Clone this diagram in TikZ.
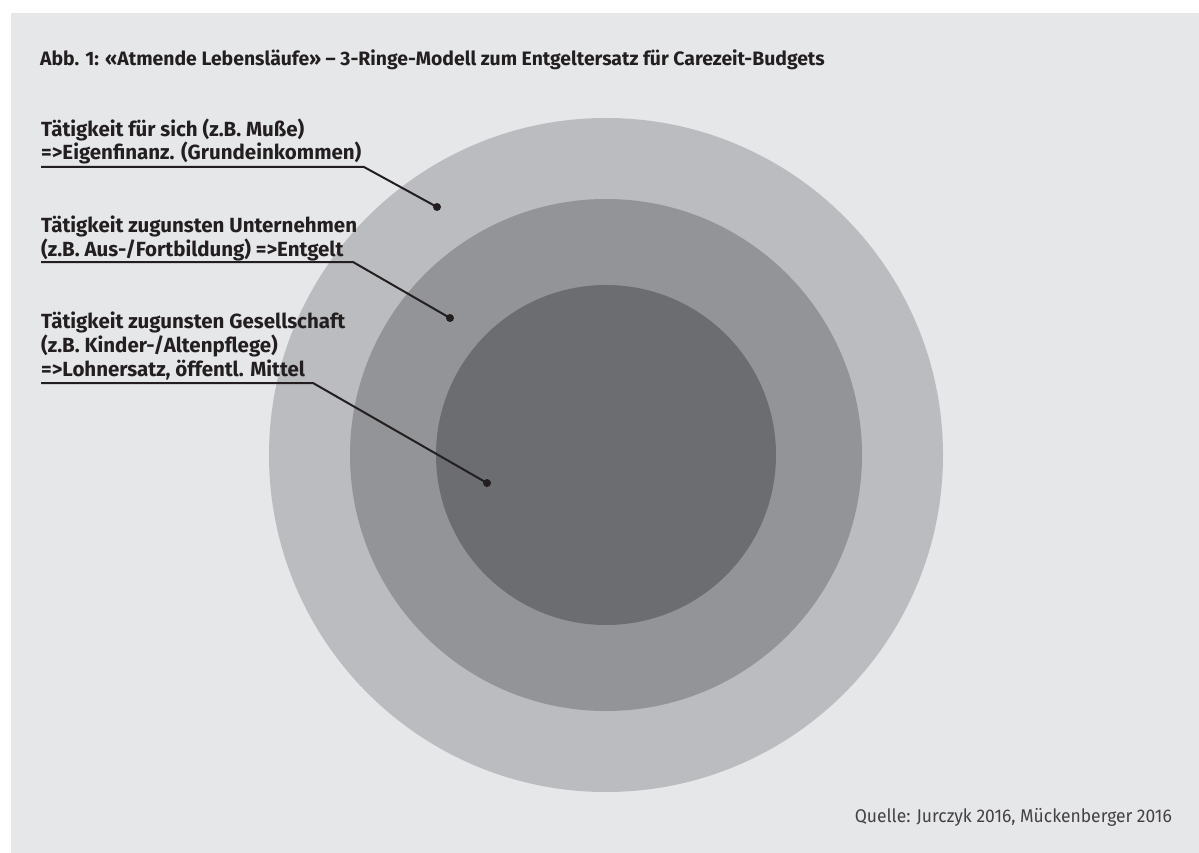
\documentclass[tikz,border=0pt]{standalone}
\usepackage{fontspec}
\setmainfont{Fira Sans}
\newfontfamily\srcfont{Fira Sans}[FakeStretch=0.95]
\definecolor{panel}{HTML}{E6E7E9}
\definecolor{ringA}{HTML}{BBBCBF}
\definecolor{ringB}{HTML}{939497}
\definecolor{ringC}{HTML}{6C6D71}
\definecolor{ink}{HTML}{231F20}
\tikzset{
  lbl/.style={anchor=base west, inner sep=0pt, text=ink, font=\bfseries\fontsize{20.5}{22}\selectfont},
  ttl/.style={anchor=base west, inner sep=0pt, text=ink, font=\bfseries\fontsize{19.4}{20}\selectfont},
  src/.style={anchor=base east, inner sep=0pt, text=ink!85, font=\srcfont\fontsize{18.4}{20}\selectfont},
  leader/.style={draw=ink, line width=2pt},
  dotmark/.style={circle, fill=ink, inner sep=0pt, minimum size=8pt},
}
\begin{document}
\begin{tikzpicture}[x=1pt, y=-1pt]
\useasboundingbox (0,0) rectangle (1199,853);
\fill[white] (0,0) rectangle (1199,853);
\fill[panel] (11,13) rectangle (1199,853);
% rings
\fill[ringA] (606,455) circle[radius=337];
\fill[ringB] (606,455) circle[radius=256];
\fill[ringC] (606,455) circle[radius=170];
% title
\node[ttl] (title) at (40,66) {Abb. 1: «Atmende Lebensläufe» – 3-Ringe-Modell zum Entgeltersatz für Carezeit-Budgets};
% label 1
\node[lbl] (l1a) at (41,137) {Tätigkeit für sich (z.B. Muße)};
\node[lbl] (l1b) at (41,160) {=>Eigenfinanz. (Grundeinkommen)};
\coordinate (u1s) at (41,167);
\coordinate (u1e) at (364,167);
\node[dotmark] (d1) at (437,207) {};
\draw[leader] (u1s) -- (u1e) -- (d1.center);
% label 2
\node[lbl] (l2a) at (41,233) {Tätigkeit zugunsten Unternehmen};
\node[lbl] (l2b) at (41,256) {(z.B. Aus-/Fortbildung) =>Entgelt};
\coordinate (u2s) at (41,262);
\coordinate (u2e) at (353,262);
\node[dotmark] (d2) at (450,318) {};
\draw[leader] (u2s) -- (u2e) -- (d2.center);
% label 3
\node[lbl] (l3a) at (41,328) {Tätigkeit zugunsten Gesellschaft};
\node[lbl] (l3b) at (41,352) {(z.B. Kinder-/Altenpflege)};
\node[lbl] (l3c) at (41,376) {=>Lohnersatz, öffentl. Mittel};
\coordinate (u3s) at (41,383);
\coordinate (u3e) at (313,383);
\node[dotmark] (d3) at (487,483) {};
\draw[leader] (u3s) -- (u3e) -- (d3.center);
% source
\node[src] (source) at (1172,822) {Quelle: Jurczyk 2016, Mückenberger 2016};
\end{tikzpicture}
\end{document}
